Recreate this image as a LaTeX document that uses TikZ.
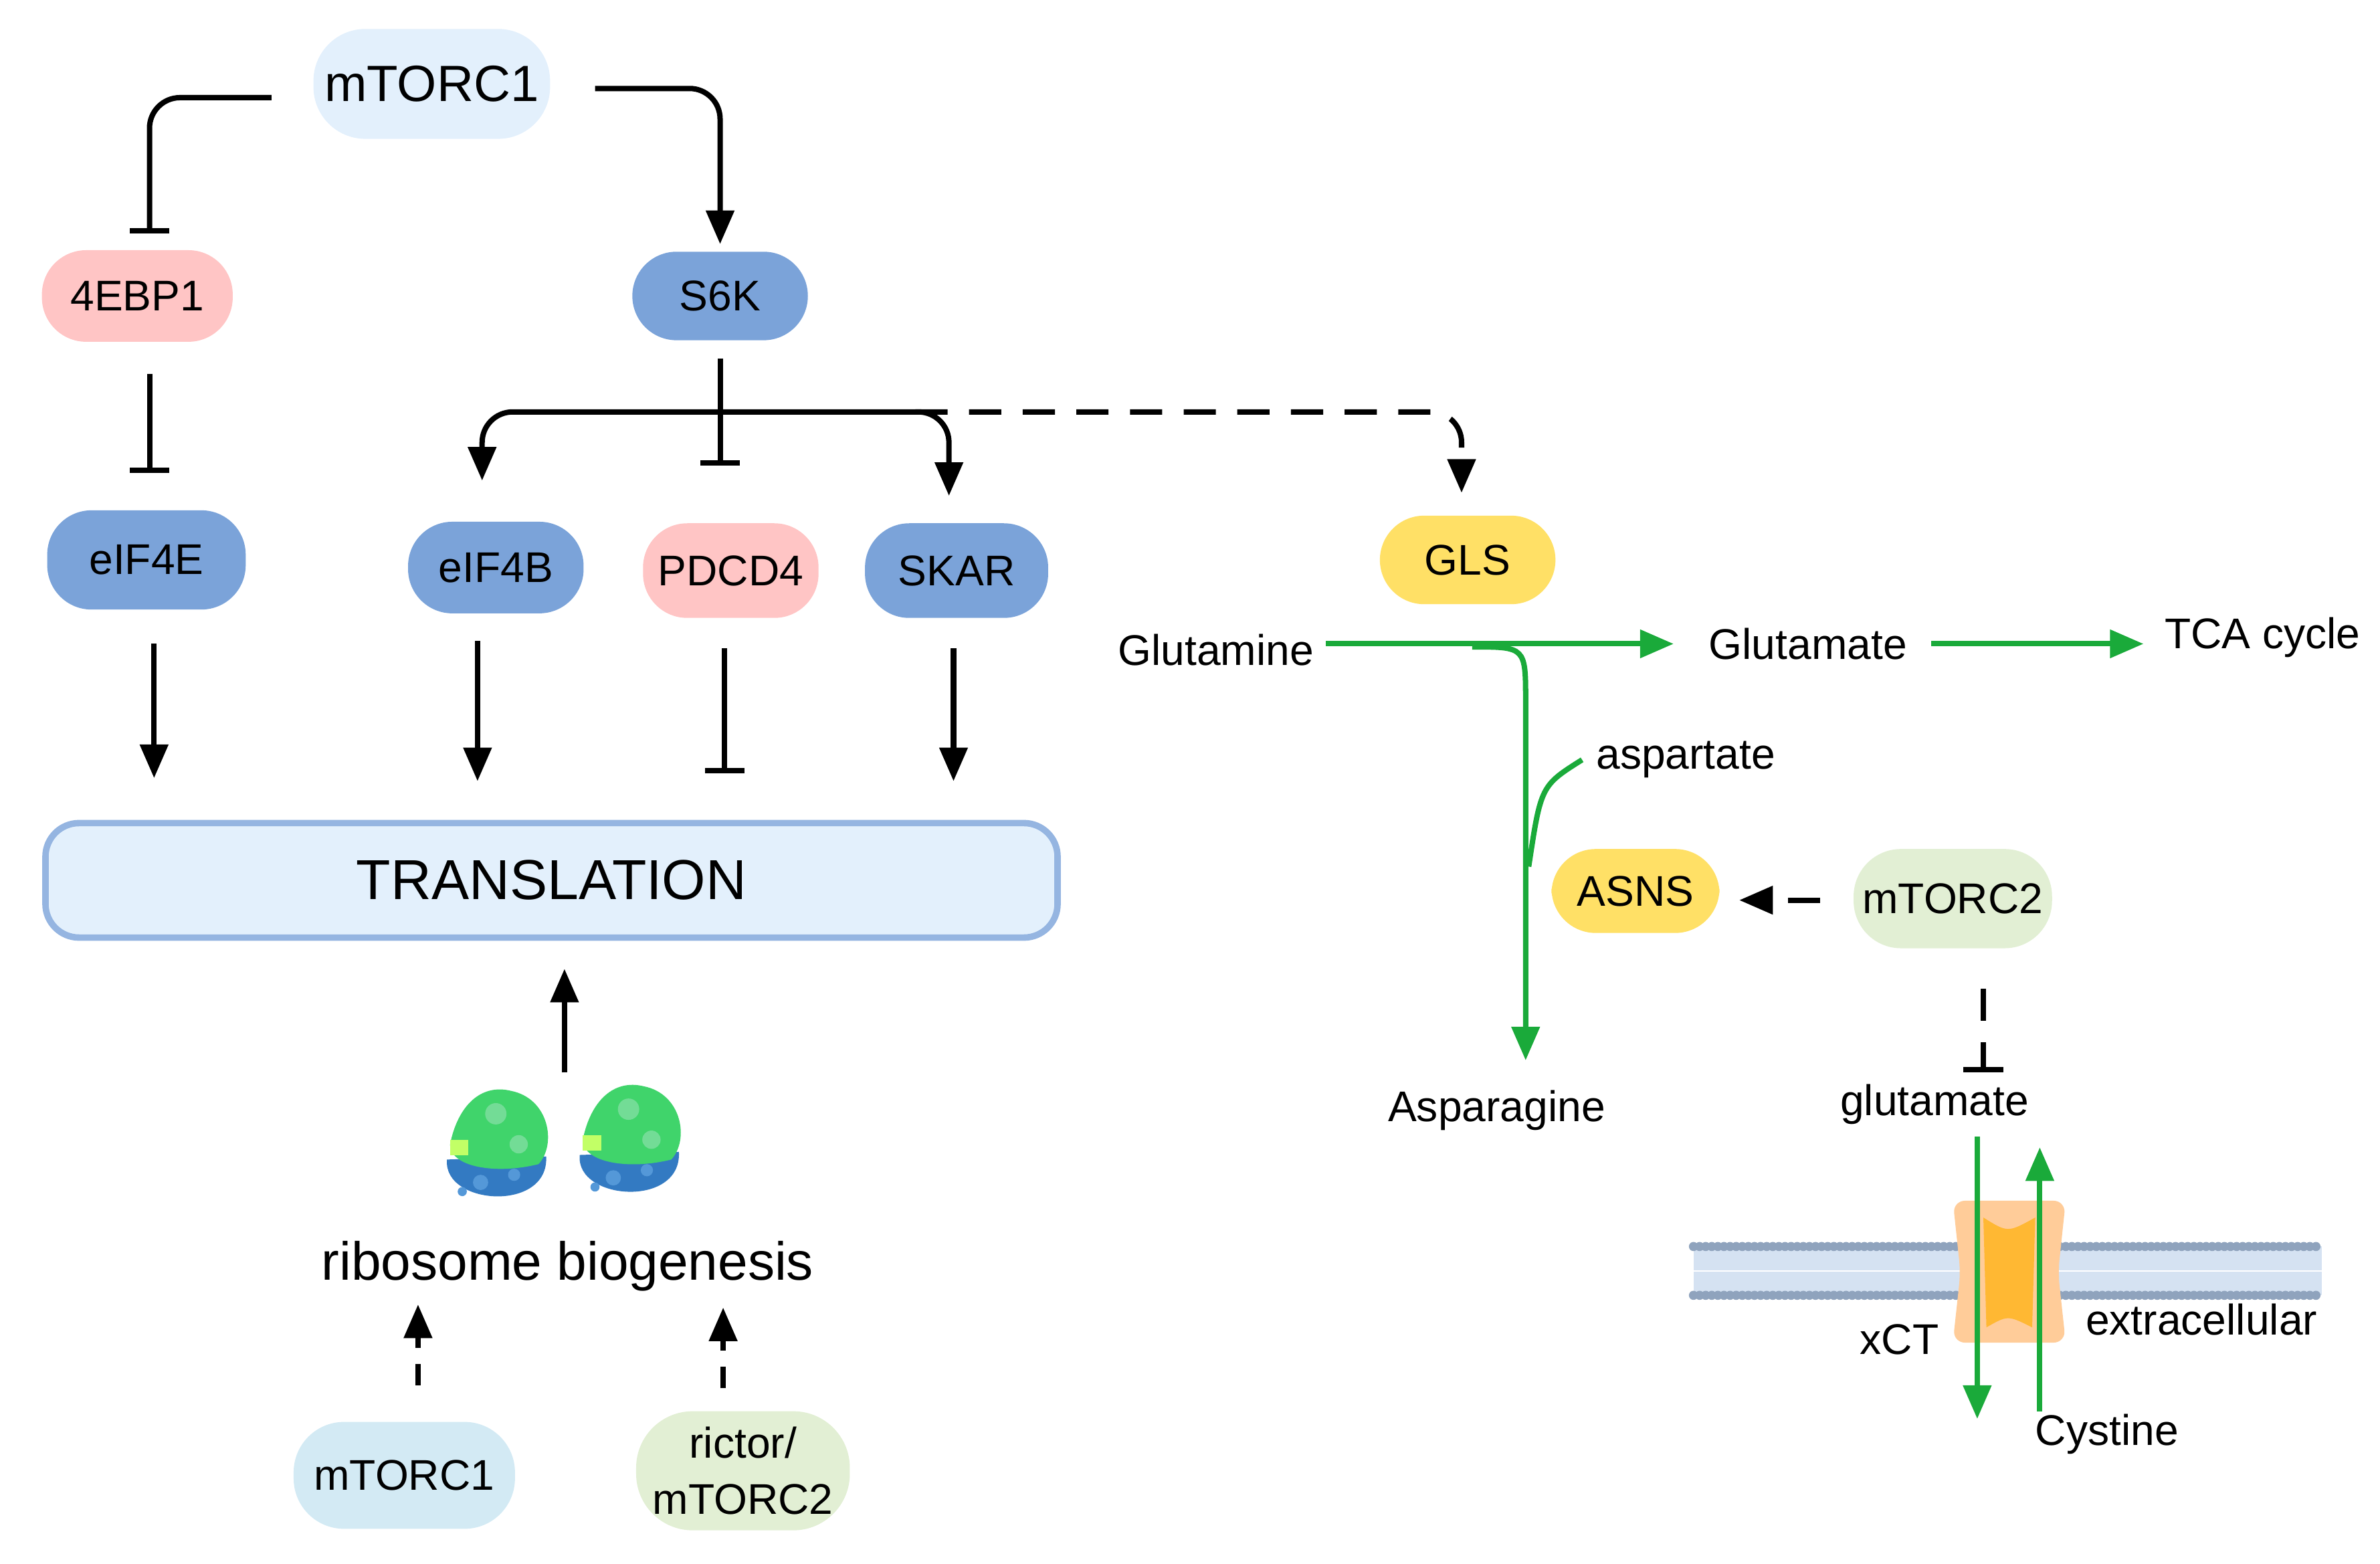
\documentclass[tikz,border=0pt]{standalone}
\usepackage{fontspec}
\setmainfont{Liberation Sans}
\usetikzlibrary{arrows.meta}
\definecolor{lblue}{HTML}{E3F0FC}
\definecolor{lblue2}{HTML}{D3EAF4}
\definecolor{mblue}{HTML}{7BA3D9}
\definecolor{pinkc}{HTML}{FFC5C5}
\definecolor{yel}{HTML}{FFE066}
\definecolor{lgreen}{HTML}{E2EFD4}
\definecolor{gr}{HTML}{1AAA3A}
\definecolor{memb}{HTML}{8FA3BD}
\definecolor{membl}{HTML}{D5E2F2}
\begin{document}
\begin{tikzpicture}[x=0.01cm,y=-0.01cm,
  pill/.style={rounded corners=0.29cm,draw=none,inner sep=0pt,font=\fontsize{8}{9.5}\selectfont,align=center},
  ar/.style={line width=1pt,-{Triangle[length=0.22cm,width=0.18cm]}},
  inh/.style={line width=1pt,-{Bar[width=0.26cm,line width=1pt]}},
  ga/.style={gr,line width=1pt,-{Triangle[length=0.22cm,width=0.18cm]}},
  lab/.style={font=\fontsize{8}{9.5}\selectfont}]
\useasboundingbox (0,0) rectangle (1560,1025);
% nodes
\node[pill,fill=lblue,minimum width=1.55cm,minimum height=0.72cm,rounded corners=0.34cm,font=\fontsize{9.5}{11}\selectfont] (m1) at (283,55) {mTORC1};
\node[pill,fill=pinkc,minimum width=1.25cm,minimum height=0.6cm] (ebp) at (90,194) {4EBP1};
\node[pill,fill=mblue,minimum width=1.15cm,minimum height=0.58cm] (s6k) at (472,194) {S6K};
\node[pill,fill=mblue,minimum width=1.3cm,minimum height=0.65cm] (e4e) at (96,367) {eIF4E};
\node[pill,fill=mblue,minimum width=1.15cm,minimum height=0.6cm] (e4b) at (325,372) {eIF4B};
\node[pill,fill=pinkc,minimum width=1.15cm,minimum height=0.62cm] (pd) at (479,374) {PDCD4};
\node[pill,fill=mblue,minimum width=1.2cm,minimum height=0.62cm] (skar) at (627,374) {SKAR};
\node[pill,fill=yel,minimum width=1.15cm,minimum height=0.58cm] (gls) at (962,367) {GLS};
\node[rounded corners=0.22cm,fill=lblue,draw=mblue!80,line width=1.2pt,minimum width=6.63cm,minimum height=0.75cm,font=\fontsize{10.5}{12}\selectfont] (tr) at (361.5,577) {TRANSLATION};
\node[pill,fill=yel,minimum width=1.1cm,minimum height=0.55cm] (asns) at (1072,584) {ASNS};
\node[pill,fill=lgreen,minimum width=1.3cm,minimum height=0.65cm,rounded corners=0.31cm] (m2) at (1280,589) {mTORC2};
\node[pill,fill=lblue2,minimum width=1.45cm,minimum height=0.7cm,rounded corners=0.33cm] (m1b) at (265,967) {mTORC1};
\node[pill,fill=lgreen,minimum width=1.4cm,minimum height=0.78cm,rounded corners=0.37cm,font=\fontsize{8}{10.5}\selectfont] (ric) at (487,964) {rictor/\\mTORC2};
% text nodes
\node[font=\fontsize{10}{12}\selectfont] (rb) at (372,830) {ribosome biogenesis};
\node[lab] (gln) at (797,426) {Glutamine};
\node[lab] (glu) at (1185,422) {Glutamate};
\node[lab] (tca) at (1483,418) {TCA cycle};
\node[lab] (asp) at (1105,498) {aspartate};
\node[lab] (asn) at (981,728) {Asparagine};
\node[lab] (glu2) at (1268,724) {glutamate};
\node[lab] (xct) at (1245,878) {xCT};
\node[lab] (ext) at (1443,865) {extracellular};
\node[lab] (cys) at (1381,940) {Cystine};
% coordinates
\coordinate (a1) at (178,64); \coordinate (a2) at (98,153);
\coordinate (b1) at (390,58); \coordinate (b2) at (472,160);
\coordinate (h) at (472,270);
\coordinate (hb) at (472,305);
% top connectors
\draw[inh,rounded corners=0.2cm] (a1) -- (98,64) -- (a2);
\draw[ar,rounded corners=0.2cm] (b1) -- (472,58) -- (b2);
\draw[inh] (98,245) -- (98,310);
\draw[inh] (472,235) -- (hb);
\draw[ar,rounded corners=0.2cm] (h) -- (316,270) -- (316,315);
\draw[ar,rounded corners=0.2cm] (h) -- (622,270) -- (622,325);
\draw[line width=1pt,dash pattern=on 6pt off 4pt,-{Triangle[length=0.22cm,width=0.18cm]},rounded corners=0.2cm] (600,270) -- (958,270) -- (958,323);
\draw[ar] (101,422) -- (101,510);
\draw[ar] (313,420) -- (313,512);
\draw[inh] (475,425) -- (475,507);
\draw[ar] (625,425) -- (625,512);
\draw[ar] (370,703) -- (370,635);
\draw[ar,dash pattern=on 4pt off 3pt] (274,908) -- (274,855);
\draw[ar,dash pattern=on 4pt off 3pt] (474,910) -- (474,857);
% ribosomes
\foreach \cx/\cy in {325/755,412/752}{
  \fill[blue!50!cyan!70!black!80] (\cx-32,\cy+5) .. controls (\cx-35,\cy+35) and (\cx+35,\cy+40) .. (\cx+33,\cy+3) -- cycle;
  \fill[cyan!60!blue!70] (\cx-10,\cy+20) circle (5) (\cx+12,\cy+15) circle (4) (\cx-22,\cy+26) circle (3);
  \fill[green!55!teal!75] (\cx-30,\cy-5) .. controls (\cx-25,\cy-30) and (\cx-10,\cy-45) .. (\cx+10,\cy-40) .. controls (\cx+35,\cy-35) and (\cx+40,\cy-5) .. (\cx+28,\cy+8) .. controls (\cx,\cy+15) and (\cx-30,\cy+10) .. cycle;
  \fill[green!40!yellow!60] (\cx-30,\cy-8) rectangle (\cx-18,\cy+2);
  \fill[green!50!teal!55] (\cx,\cy-25) circle (7) (\cx+15,\cy-5) circle (6);
}
% right side green
\draw[ga] (869,422) -- (1097,422);
\draw[ga] (1266,422) -- (1405,422);
\draw[ga] (965,424) .. controls (1000,424) .. (1000,460) -- (1000,695);
\draw[gr,line width=1pt] (1037,498) .. controls (1010,515) .. (1002,568);
\draw[ar,dash pattern=on 6pt off 4pt] (1193,590) -- (1140,590);
\draw[inh,dash pattern=on 6pt off 4pt] (1300,648) -- (1300,703);
% membrane
\fill[membl] (1110,817) rectangle (1522,849);
\foreach \i in {0,...,102}{
  \fill[memb] (1110+4*\i,817) circle (0.03cm);
  \fill[memb] (1110+4*\i,849) circle (0.03cm);
}
\draw[white,line width=0.3pt] (1110,833) -- (1522,833);
% transporter
\fill[orange!40,rounded corners=0.08cm] (1280,787) -- (1354,787) -- (1349,834) -- (1354,880) -- (1280,880) -- (1285,834) -- cycle;
\fill[orange!70!yellow!80] (1300,798) .. controls (1316,808) .. (1334,798) -- (1332,870) .. controls (1316,862) .. (1302,870) -- cycle;
\draw[ga] (1296,745) -- (1296,930);
\draw[ga] (1337,925) -- (1337,752);
\end{tikzpicture}
\end{document}
